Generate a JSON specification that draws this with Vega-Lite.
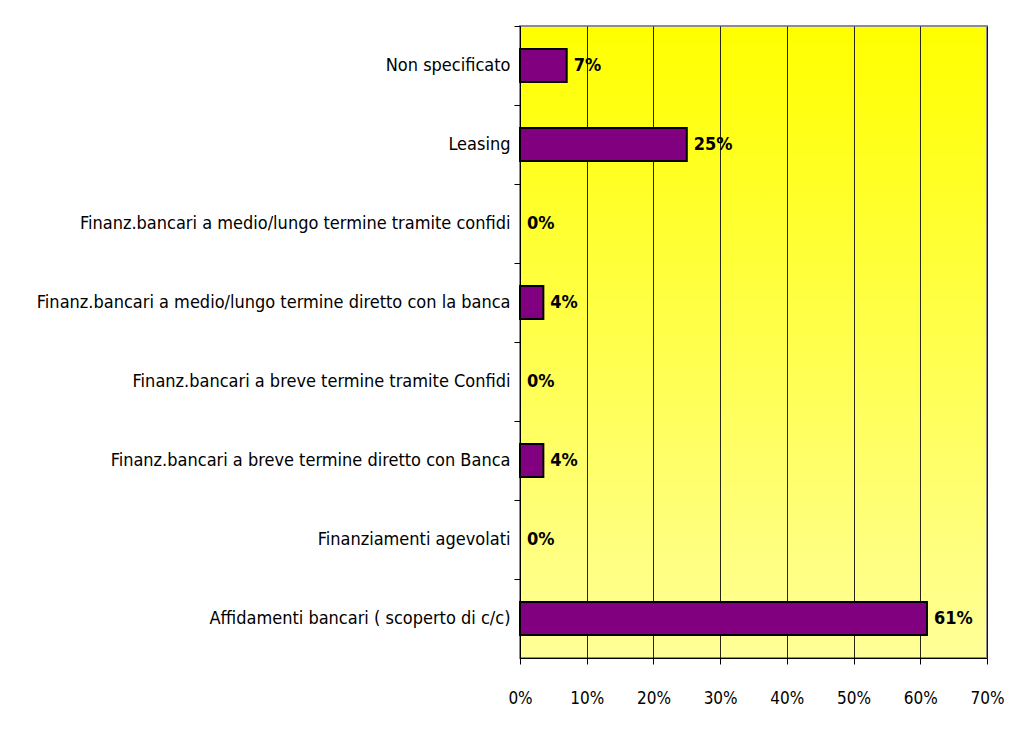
{
  "$schema": "https://vega.github.io/schema/vega-lite/v6.json",
  "autosize": {"type": "none"},
  "width": 467,
  "height": 632,
  "padding": {"left": 520, "top": 26, "right": 25, "bottom": 93},
  "background": "white",
  "config": {
    "view": {
      "stroke": "#8c8c8c",
      "strokeWidth": 2,
      "fill": {
        "gradient": "linear",
        "x1": 0, "y1": 0, "x2": 0, "y2": 1,
        "stops": [
          {"offset": 0, "color": "#ffff00"},
          {"offset": 1, "color": "#ffff99"}
        ]
      }
    },
    "font": "DejaVu Sans Condensed, DejaVu Sans"
  },
  "data": {
    "values": [
      {"categoria": "Non specificato", "valore": 7, "etichetta": "7%"},
      {"categoria": "Leasing", "valore": 25, "etichetta": "25%"},
      {"categoria": "Finanz.bancari a medio/lungo termine tramite confidi", "valore": 0, "etichetta": "0%"},
      {"categoria": "Finanz.bancari a medio/lungo termine diretto con la banca", "valore": 3.5, "etichetta": "4%"},
      {"categoria": "Finanz.bancari a breve termine tramite Confidi", "valore": 0, "etichetta": "0%"},
      {"categoria": "Finanz.bancari a breve termine diretto con Banca", "valore": 3.5, "etichetta": "4%"},
      {"categoria": "Finanziamenti agevolati", "valore": 0, "etichetta": "0%"},
      {"categoria": "Affidamenti bancari ( scoperto di c/c)", "valore": 61, "etichetta": "61%"}
    ]
  },
  "encoding": {
    "y": {
      "field": "categoria",
      "type": "nominal",
      "sort": [
        "Non specificato",
        "Leasing",
        "Finanz.bancari a medio/lungo termine tramite confidi",
        "Finanz.bancari a medio/lungo termine diretto con la banca",
        "Finanz.bancari a breve termine tramite Confidi",
        "Finanz.bancari a breve termine diretto con Banca",
        "Finanziamenti agevolati",
        "Affidamenti bancari ( scoperto di c/c)"
      ],
      "scale": {"paddingInner": 0, "paddingOuter": 0},
      "axis": {
        "title": null,
        "bandPosition": 0,
        "domainColor": "#000000",
        "domainWidth": 1,
        "tickColor": "#000000",
        "tickSize": 6,
        "labelFontSize": 18,
        "labelColor": "#000000",
        "labelPadding": 4,
        "labelLimit": 600,
        "grid": false
      }
    },
    "x": {
      "field": "valore",
      "type": "quantitative",
      "scale": {"domain": [0, 70], "nice": false},
      "axis": {
        "title": null,
        "values": [0, 10, 20, 30, 40, 50, 60, 70],
        "labelExpr": "datum.value + '%'",
        "labelFlush": false,
        "domainColor": "#000000",
        "tickColor": "#000000",
        "tickSize": 6,
        "labelPadding": 26,
        "labelFontSize": 17,
        "labelColor": "#000000",
        "grid": true,
        "gridColor": "#000000",
        "gridWidth": 1,
        "gridOpacity": 0.85
      }
    }
  },
  "layer": [
    {
      "transform": [{"filter": "datum.valore > 0"}],
      "mark": {"type": "bar", "color": "#800080", "stroke": "#000000", "strokeWidth": 2, "height": {"band": 0.42}}
    },
    {
      "mark": {"type": "text", "align": "left", "baseline": "middle", "dx": 7, "fontSize": 18, "fontWeight": "bold", "color": "#000000"},
      "encoding": {"text": {"field": "etichetta"}}
    }
  ]
}
